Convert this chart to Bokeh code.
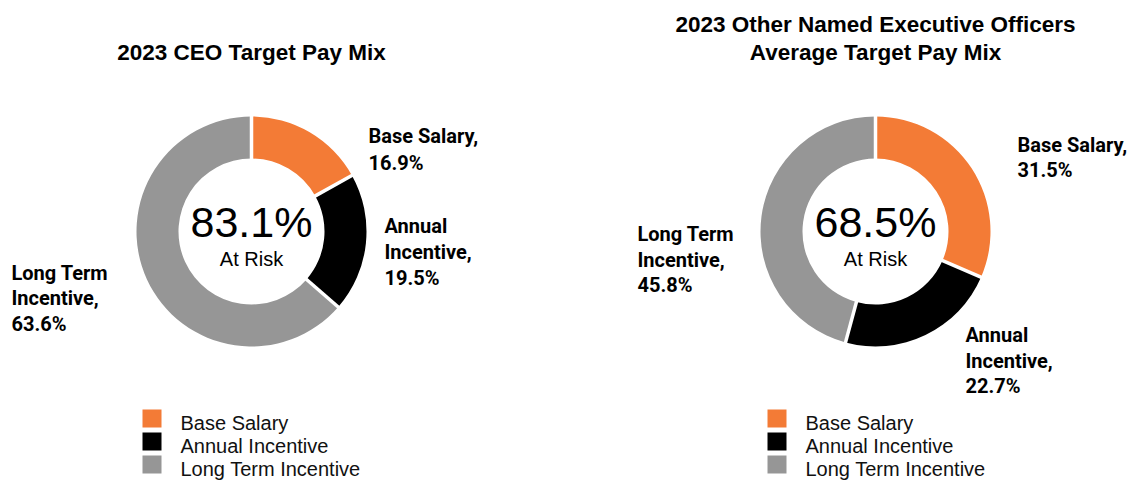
import numpy as np
from bokeh.plotting import figure
from bokeh.models import Range1d, ColumnDataSource
from bokeh.core.properties import value
from bokeh.embed import file_html
from bokeh.resources import INLINE

# ---------------- data ----------------
categories = ["Base Salary", "Annual Incentive", "Long Term Incentive"]
label_heads = [["Base Salary,"], ["Annual", "Incentive,"], ["Long Term", "Incentive,"]]
ceo_values = [16.9, 19.5, 63.6]
neo_values = [31.5, 22.7, 45.8]
ceo_at_risk = "83.1%"
neo_at_risk = "68.5%"
center_sub = "At Risk"
titles = [["2023 CEO Target Pay Mix"],
          ["2023 Other Named Executive Officers", "Average Target Pay Mix"]]
colors = ["#F37B36", "#000000", "#969696"]

# ---------------- layout ----------------
W, H = 1131, 481
TITLE_FONT = value("Liberation Sans")
LABEL_FONT = value("Roboto")
REG_FONT = value("Liberation Sans")

p = figure(width=W, height=H, output_backend="svg", toolbar_location=None,
           x_range=Range1d(0, W), y_range=Range1d(0, H),
           min_border=0, background_fill_color="white",
           border_fill_color="white")
p.axis.visible = False
p.grid.visible = False
p.outline_line_color = None


def Y(page_y):
    return H - page_y


def TY(baseline, size):
    # text anchor correction so that the drawn baseline lands on `baseline`
    return Y(baseline - 0.37 * size)


charts = [
    dict(values=ceo_values, risk=ceo_at_risk, cx=251, cy=231,
         title=titles[0], title_base=[60],
         labels=[(368, [143, 170]), (384, [233, 259, 285]), (11, [280, 305, 331])],
         leg_sq_x=142, leg_txt_x=180),
    dict(values=neo_values, risk=neo_at_risk, cx=875, cy=231,
         title=titles[1], title_base=[32, 60],
         labels=[(1017, [152, 177]), (965, [342, 368, 393]), (637, [241, 267, 292])],
         leg_sq_x=767, leg_txt_x=805),
]

R_OUT, R_IN = 115, 73
LEG_TOP, LEG_STEP = 409, 23

for ch in charts:
    vals = np.array(ch["values"], dtype=float)
    frac = vals / vals.sum()
    cum = np.concatenate([[0.0], np.cumsum(frac)])
    start = np.pi / 2 - 2 * np.pi * cum[:-1]
    end = np.pi / 2 - 2 * np.pi * cum[1:]
    cx, cy = ch["cx"], Y(ch["cy"])
    src = ColumnDataSource(dict(start=start, end=end, color=colors,
                                cat=categories))
    p.annular_wedge(x=cx, y=cy, inner_radius=R_IN, outer_radius=R_OUT,
                    start_angle="start", end_angle="end", direction="clock",
                    fill_color="color", line_color=None, source=src)
    # white separators at slice boundaries
    b = np.pi / 2 - 2 * np.pi * cum[:-1]
    p.segment(x0=cx + (R_IN - 3) * np.cos(b), y0=cy + (R_IN - 3) * np.sin(b),
              x1=cx + (R_OUT + 3) * np.cos(b), y1=cy + (R_OUT + 3) * np.sin(b),
              line_color="white", line_width=3.5)

    # center text
    p.text(x=[cx], y=[TY(237, 43)], text=[ch["risk"]], text_align="center",
           text_baseline="alphabetic", text_font=REG_FONT,
           text_font_size="43px", text_color="black")
    p.text(x=[cx], y=[TY(266, 20)], text=[center_sub], text_align="center",
           text_baseline="alphabetic", text_font=REG_FONT,
           text_font_size="20px", text_color="black")

    # title
    for line, base in zip(ch["title"], ch["title_base"]):
        p.text(x=[cx], y=[TY(base, 22.5)], text=[line], text_align="center",
               text_baseline="alphabetic", text_font=TITLE_FONT,
               text_font_style="bold", text_font_size="22.5px",
               text_color="black")

    # data labels
    for i, (lx, bases) in enumerate(ch["labels"]):
        lines = label_heads[i] + [f"{ch['values'][i]}%"]
        p.text(x=[lx] * len(lines), y=[TY(bb, 20) for bb in bases], text=lines,
               text_align="left", text_baseline="alphabetic",
               text_font=LABEL_FONT, text_font_style="bold",
               text_font_size="20px", text_color="black")

    # legend
    for i, cat in enumerate(categories):
        top = LEG_TOP + LEG_STEP * i
        p.quad(left=ch["leg_sq_x"], right=ch["leg_sq_x"] + 19,
               top=Y(top), bottom=Y(top + 18), fill_color=colors[i],
               line_color=None)
        p.text(x=[ch["leg_txt_x"]], y=[TY(top + 21, 20)], text=[cat],
               text_align="left", text_baseline="alphabetic",
               text_font=REG_FONT, text_font_size="20px",
               text_color="#111111")

open("out.html", "w").write(file_html(p, INLINE))
